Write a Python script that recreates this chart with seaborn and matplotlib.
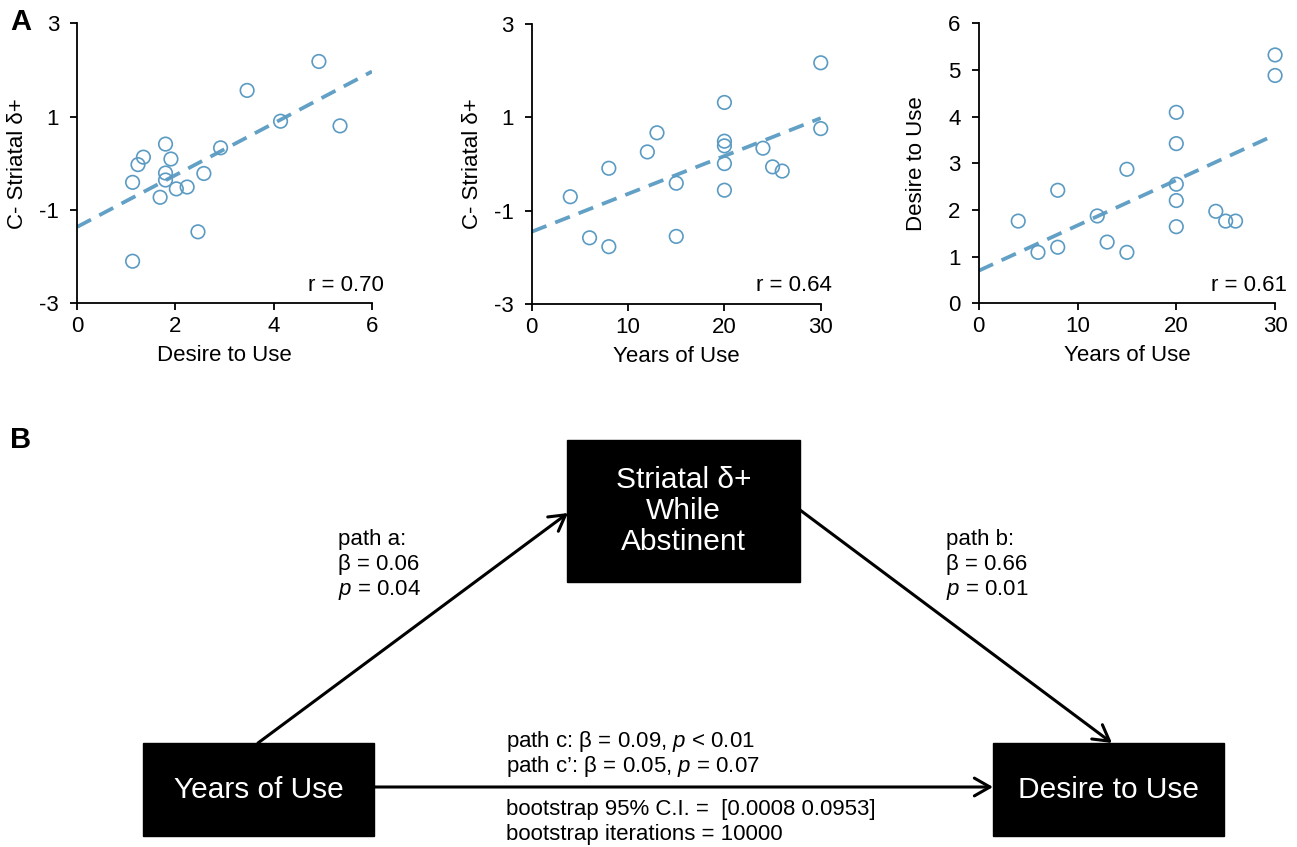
import numpy as np
import pandas as pd
import matplotlib
matplotlib.use("Agg")
import matplotlib.pyplot as plt
from matplotlib.patches import Rectangle
import seaborn as sns

# --- panel A data ---
desire_a1 = [4.92, 3.46, 4.14, 5.35, 1.80, 2.92, 1.35, 1.91, 1.24,
             1.80, 2.58, 1.80, 1.13, 2.02, 2.24, 1.69, 2.46, 1.13]
striatal_a1 = [2.18, 1.56, 0.90, 0.80, 0.41, 0.33, 0.13, 0.09, -0.03,
               -0.21, -0.22, -0.36, -0.41, -0.55, -0.51, -0.73, -1.47, -2.10]

years_a2 = [20, 13, 12, 8, 4, 6, 8, 15, 15, 20, 20, 20, 20, 24, 25, 26, 30, 30]
striatal_a2 = [1.32, 0.67, 0.26, -0.09, -0.70, -1.58, -1.77, -0.41, -1.55,
               0.49, 0.39, 0.01, -0.56, 0.34, -0.06, -0.15, 2.17, 0.76]

years_a3 = [4, 6, 8, 8, 12, 13, 15, 15, 20, 20, 20, 20, 20, 24, 25, 26, 30, 30]
desire_a3 = [1.76, 1.09, 2.42, 1.20, 1.87, 1.31, 2.87, 1.09, 4.09,
             3.42, 2.55, 2.20, 1.64, 1.97, 1.76, 1.76, 5.32, 4.88]

r_labels = ["r = 0.70", "r = 0.64", "r = 0.61"]

# --- panel B text ---
path_a = ["path a:", "β = 0.06", r"$\mathit{p}$ = 0.04"]
path_b = ["path b:", "β = 0.66", r"$\mathit{p}$ = 0.01"]
path_c = [r"path c: β = 0.09, $\mathit{p}$ < 0.01",
          r"path c’: β = 0.05, $\mathit{p}$ = 0.07"]
boot = ["bootstrap 95% C.I. =  [0.0008 0.0953]", "bootstrap iterations = 10000"]

sns.set_style("ticks")
plt.rcParams["font.family"] = ["Liberation Sans", "DejaVu Sans"]
plt.rcParams["mathtext.fontset"] = "custom"
plt.rcParams["mathtext.rm"] = "Liberation Sans"
plt.rcParams["mathtext.it"] = "Liberation Sans:italic"
plt.rcParams["axes.unicode_minus"] = False
for k in ["text.color", "axes.labelcolor", "xtick.color", "ytick.color", "axes.edgecolor"]:
    plt.rcParams[k] = "black"

BLUE = "#5B9BC3"
FS = 16

fig = plt.figure(figsize=(12.97, 8.47), dpi=100)

# canvas for panel B in pixel coordinates
axd = fig.add_axes([0, 0, 1, 1])
axd.set_xlim(0, 1297)
axd.set_ylim(847, 0)
axd.axis("off")

panels = [
    dict(x=desire_a1, y=striatal_a1, pos=[0.0594, 0.642, 0.2274, 0.3306],
         xlim=(0, 6), xt=[0, 2, 4, 6], ylim=(-3, 3), yt=[-3, -1, 1, 3],
         xl="Desire to Use", yl="C- Striatal δ+", lp=8),
    dict(x=years_a2, y=striatal_a2, pos=[0.410, 0.641, 0.2228, 0.3306],
         xlim=(0, 30), xt=[0, 10, 20, 30], ylim=(-3, 3), yt=[-3, -1, 1, 3],
         xl="Years of Use", yl="C- Striatal δ+", lp=8),
    dict(x=years_a3, y=desire_a3, pos=[0.7546, 0.642, 0.2285, 0.3306],
         xlim=(0, 30), xt=[0, 10, 20, 30], ylim=(0, 6), yt=[0, 1, 2, 3, 4, 5, 6],
         xl="Years of Use", yl="Desire to Use", lp=15),
]

for p, rl in zip(panels, r_labels):
    ax = fig.add_axes(p["pos"])
    ax.set_xlim(*p["xlim"])
    ax.set_ylim(*p["ylim"])
    df = pd.DataFrame({"x": p["x"], "y": p["y"]})
    sns.regplot(data=df, x="x", y="y", ax=ax, ci=None, truncate=False,
                color=BLUE,
                scatter_kws=dict(facecolors="none", edgecolors=BLUE, s=95,
                                 linewidths=1.2, alpha=1, zorder=3, clip_on=False),
                line_kws=dict(lw=2.7, dashes=(4.2, 2.5), alpha=0.95))
    ax.set_xlim(*p["xlim"])
    ax.set_ylim(*p["ylim"])
    ax.set_xticks(p["xt"])
    ax.set_yticks(p["yt"])
    ax.set_xlabel(p["xl"], fontsize=FS, labelpad=6)
    ax.set_ylabel(p["yl"], fontsize=FS, labelpad=p["lp"])
    ax.tick_params(axis="both", labelsize=FS, length=5, width=1.3, color="black")
    ax.tick_params(axis="x", pad=4)
    ax.tick_params(axis="y", pad=8)
    for s in ["left", "bottom"]:
        ax.spines[s].set_linewidth(1.3)
        ax.spines[s].set_color("black")
    sns.despine(ax=ax)
    ax.text(1.04, 0.065, rl, transform=ax.transAxes, ha="right", va="center",
            fontsize=FS)

# panel letters
axd.text(10, 22, "A", fontsize=21, fontweight="bold", va="center", ha="left")
axd.text(10, 440, "B", fontsize=21, fontweight="bold", va="center", ha="left")

# boxes
boxes = [
    (567, 440, 233, 142, "Striatal δ+\nWhile\nAbstinent"),
    (143, 743, 231, 93, "Years of Use"),
    (993, 743, 231, 93, "Desire to Use"),
]
for bx, by, bw, bh, label in boxes:
    axd.add_patch(Rectangle((bx, by), bw, bh, facecolor="black", edgecolor="black"))
    axd.text(bx + bw / 2, by + bh / 2, label, color="white", fontsize=21.5,
             ha="center", va="center", linespacing=1.15)

# arrows
arrow = dict(arrowstyle="->,head_length=0.7,head_width=0.4", lw=2.2,
             color="black", shrinkA=0, shrinkB=0, mutation_scale=16)
axd.annotate("", xy=(568, 513), xytext=(258, 743), arrowprops=arrow)
axd.annotate("", xy=(1112, 743), xytext=(800, 510), arrowprops=arrow)
axd.annotate("", xy=(993, 787), xytext=(374, 787), arrowprops=arrow)

# path labels
for i, t in enumerate(path_a):
    axd.text(338, 539 + 25.5 * i, t, fontsize=FS, ha="left", va="center")
for i, t in enumerate(path_b):
    axd.text(946, 539 + 25.5 * i, t, fontsize=FS, ha="left", va="center")
for i, t in enumerate(path_c):
    axd.text(506, 742 + 24.5 * i, t, fontsize=FS, ha="left", va="center")
for i, t in enumerate(boot):
    axd.text(506, 809 + 25.5 * i, t, fontsize=FS, ha="left", va="center")

fig.savefig("out.png", dpi=100)
